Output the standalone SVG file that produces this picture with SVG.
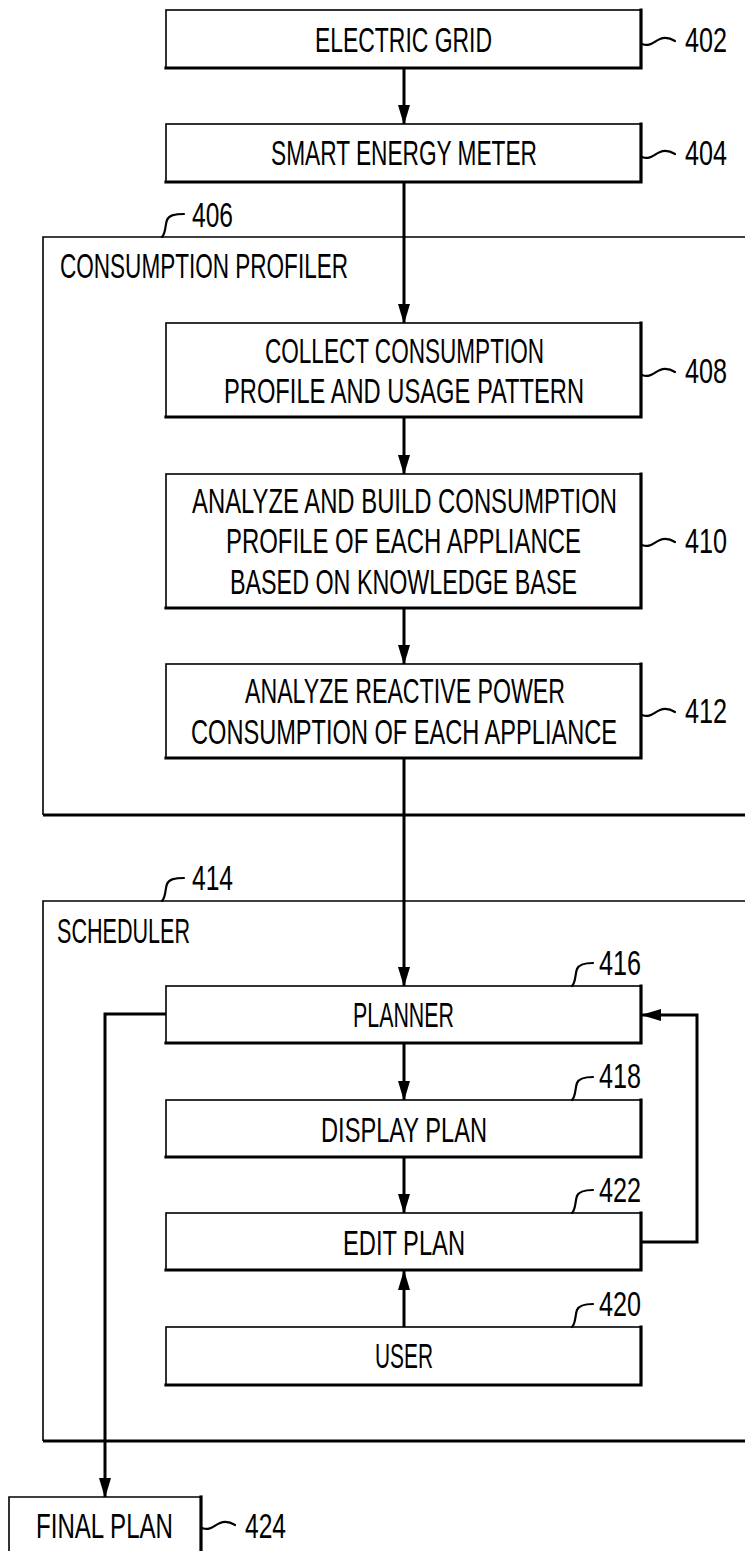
<svg xmlns="http://www.w3.org/2000/svg" width="745" height="1551" viewBox="0 0 745 1551">
<style>
text{font-family:"Liberation Sans",Arial,sans-serif;font-size:24.5px;fill:#000;}
.box{fill:#fff;stroke:#000;stroke-width:1.6;}
.sh{fill:none;stroke:#000;stroke-width:3.2;stroke-linecap:square;}
.fr{fill:none;stroke:#000;stroke-width:1.6;}
.frb{fill:none;stroke:#000;stroke-width:3.2;}
.ld{fill:none;stroke:#000;stroke-width:2.2;stroke-linecap:round;}
.cn{fill:none;stroke:#000;stroke-width:3;}
</style>
<defs>
<marker id="ar" markerUnits="userSpaceOnUse" markerWidth="20" markerHeight="12" viewBox="0 0 20 12" refX="19" refY="6" orient="auto">
<path d="M0,0 L20,6 L0,12 Z" fill="#000"/>
</marker>
</defs>

<g id="frame406">
<path class="fr" d="M745,237 H43 V815"/>
<path class="frb" d="M43,815 H745"/>
<text transform="translate(60,278) scale(1,1.43)" textLength="288" lengthAdjust="spacingAndGlyphs">CONSUMPTION PROFILER</text>
<path class="ld" d="M162,237 C166,233 165,225 167,220 C169,215 175,214 184,214"/>
<text transform="translate(192,227) scale(1,1.43)" textLength="41" lengthAdjust="spacingAndGlyphs">406</text>
</g>

<g id="frame414">
<path class="fr" d="M745,901 H43 V1441"/>
<path class="frb" d="M43,1441 H745" style="stroke-width:2.8"/>
<text transform="translate(57,943) scale(1,1.43)" textLength="133" lengthAdjust="spacingAndGlyphs">SCHEDULER</text>
<path class="ld" d="M162,901 C166,897 165,889 167,884 C169,879 175,878 184,878"/>
<text transform="translate(192,890) scale(1,1.43)" textLength="41" lengthAdjust="spacingAndGlyphs">414</text>
</g>

<g id="connectors">
<line class="cn" x1="404" y1="68" x2="404" y2="124" marker-end="url(#ar)"/>
<line class="cn" x1="404" y1="182" x2="404" y2="323" marker-end="url(#ar)"/>
<line class="cn" x1="404" y1="417" x2="404" y2="474" marker-end="url(#ar)"/>
<line class="cn" x1="404" y1="608" x2="404" y2="664" marker-end="url(#ar)"/>
<line class="cn" x1="404" y1="758" x2="404" y2="986" marker-end="url(#ar)"/>
<line class="cn" x1="404" y1="1043" x2="404" y2="1100" marker-end="url(#ar)"/>
<line class="cn" x1="404" y1="1157" x2="404" y2="1213" marker-end="url(#ar)"/>
<line class="cn" x1="404" y1="1327" x2="404" y2="1271" marker-end="url(#ar)"/>
<path class="cn" d="M641,1242 H697 V1015 H642" marker-end="url(#ar)"/>
<path class="cn" d="M166,1014 H105 V1497" marker-end="url(#ar)"/>
</g>

<g id="n402">
<rect class="box" x="166" y="10" width="475" height="58"/>
<path class="sh" d="M166,68 H641 V10"/>
<text transform="translate(315,52) scale(1,1.43)" textLength="177" lengthAdjust="spacingAndGlyphs">ELECTRIC GRID</text>
<path class="ld" d="M642,44 C650,47 653,42 660,39 C665,37 670,38 675,41"/>
<text transform="translate(685,52) scale(1,1.43)" textLength="42" lengthAdjust="spacingAndGlyphs">402</text>
</g>

<g id="n404">
<rect class="box" x="166" y="124" width="475" height="58"/>
<path class="sh" d="M166,182 H641 V124"/>
<text transform="translate(271,165) scale(1,1.43)" textLength="266" lengthAdjust="spacingAndGlyphs">SMART ENERGY METER</text>
<path class="ld" d="M642,157 C650,160 653,155 660,152 C665,150 670,151 675,154"/>
<text transform="translate(685,165) scale(1,1.43)" textLength="42" lengthAdjust="spacingAndGlyphs">404</text>
</g>

<g id="n408">
<rect class="box" x="166" y="323" width="475" height="94"/>
<path class="sh" d="M166,417 H641 V323"/>
<text transform="translate(265,363) scale(1,1.43)" textLength="279" lengthAdjust="spacingAndGlyphs">COLLECT CONSUMPTION</text>
<text transform="translate(224,403) scale(1,1.43)" textLength="360" lengthAdjust="spacingAndGlyphs">PROFILE AND USAGE PATTERN</text>
<path class="ld" d="M642,375 C650,378 653,373 660,370 C665,368 670,369 675,372"/>
<text transform="translate(685,383) scale(1,1.43)" textLength="42" lengthAdjust="spacingAndGlyphs">408</text>
</g>

<g id="n410">
<rect class="box" x="166" y="474" width="475" height="134"/>
<path class="sh" d="M166,608 H641 V474"/>
<text transform="translate(192,513) scale(1,1.43)" textLength="425" lengthAdjust="spacingAndGlyphs">ANALYZE AND BUILD CONSUMPTION</text>
<text transform="translate(226,553) scale(1,1.43)" textLength="355" lengthAdjust="spacingAndGlyphs">PROFILE OF EACH APPLIANCE</text>
<text transform="translate(230,594) scale(1,1.43)" textLength="347" lengthAdjust="spacingAndGlyphs">BASED ON KNOWLEDGE BASE</text>
<path class="ld" d="M642,545 C650,548 653,543 660,540 C665,538 670,539 675,542"/>
<text transform="translate(685,553) scale(1,1.43)" textLength="42" lengthAdjust="spacingAndGlyphs">410</text>
</g>

<g id="n412">
<rect class="box" x="166" y="664" width="475" height="94"/>
<path class="sh" d="M166,758 H641 V664"/>
<text transform="translate(245,703) scale(1,1.43)" textLength="320" lengthAdjust="spacingAndGlyphs">ANALYZE REACTIVE POWER</text>
<text transform="translate(191,744) scale(1,1.43)" textLength="426" lengthAdjust="spacingAndGlyphs">CONSUMPTION OF EACH APPLIANCE</text>
<path class="ld" d="M642,715 C650,718 653,713 660,710 C665,708 670,709 675,712"/>
<text transform="translate(685,723) scale(1,1.43)" textLength="42" lengthAdjust="spacingAndGlyphs">412</text>
</g>

<g id="n416">
<rect class="box" x="166" y="986" width="475" height="57"/>
<path class="sh" d="M166,1043 H641 V986"/>
<text transform="translate(353,1027) scale(1,1.43)" textLength="101" lengthAdjust="spacingAndGlyphs">PLANNER</text>
<path class="ld" d="M572,986 C576,982 575,974 577,969 C579,964 585,963 593,963"/>
<text transform="translate(599,975) scale(1,1.43)" textLength="42" lengthAdjust="spacingAndGlyphs">416</text>
</g>

<g id="n418">
<rect class="box" x="166" y="1100" width="475" height="57"/>
<path class="sh" d="M166,1157 H641 V1100"/>
<text transform="translate(321,1142) scale(1,1.43)" textLength="166" lengthAdjust="spacingAndGlyphs">DISPLAY PLAN</text>
<path class="ld" d="M572,1100 C576,1096 575,1088 577,1083 C579,1078 585,1077 593,1077"/>
<text transform="translate(599,1088) scale(1,1.43)" textLength="42" lengthAdjust="spacingAndGlyphs">418</text>
</g>

<g id="n422">
<rect class="box" x="166" y="1213" width="475" height="57"/>
<path class="sh" d="M166,1270 H641 V1213"/>
<text transform="translate(343,1255) scale(1,1.43)" textLength="122" lengthAdjust="spacingAndGlyphs">EDIT PLAN</text>
<path class="ld" d="M572,1213 C576,1209 575,1201 577,1196 C579,1191 585,1190 593,1190"/>
<text transform="translate(599,1202) scale(1,1.43)" textLength="42" lengthAdjust="spacingAndGlyphs">422</text>
</g>

<g id="n420">
<rect class="box" x="166" y="1327" width="475" height="58"/>
<path class="sh" d="M166,1385 H641 V1327"/>
<text transform="translate(375,1368) scale(1,1.43)" textLength="58" lengthAdjust="spacingAndGlyphs">USER</text>
<path class="ld" d="M572,1327 C576,1323 575,1315 577,1310 C579,1305 585,1304 593,1304"/>
<text transform="translate(599,1316) scale(1,1.43)" textLength="42" lengthAdjust="spacingAndGlyphs">420</text>
</g>

<g id="n424">
<path class="box" d="M9,1560 V1497 H201 V1560" style="fill:#fff"/>
<path class="sh" d="M201,1497 V1560"/>
<text transform="translate(36,1538) scale(1,1.43)" textLength="137" lengthAdjust="spacingAndGlyphs">FINAL PLAN</text>
<path class="ld" d="M202,1528 C210,1531 213,1526 220,1523 C225,1521 230,1522 235,1525"/>
<text transform="translate(245,1538) scale(1,1.43)" textLength="41" lengthAdjust="spacingAndGlyphs">424</text>
</g>
</svg>
